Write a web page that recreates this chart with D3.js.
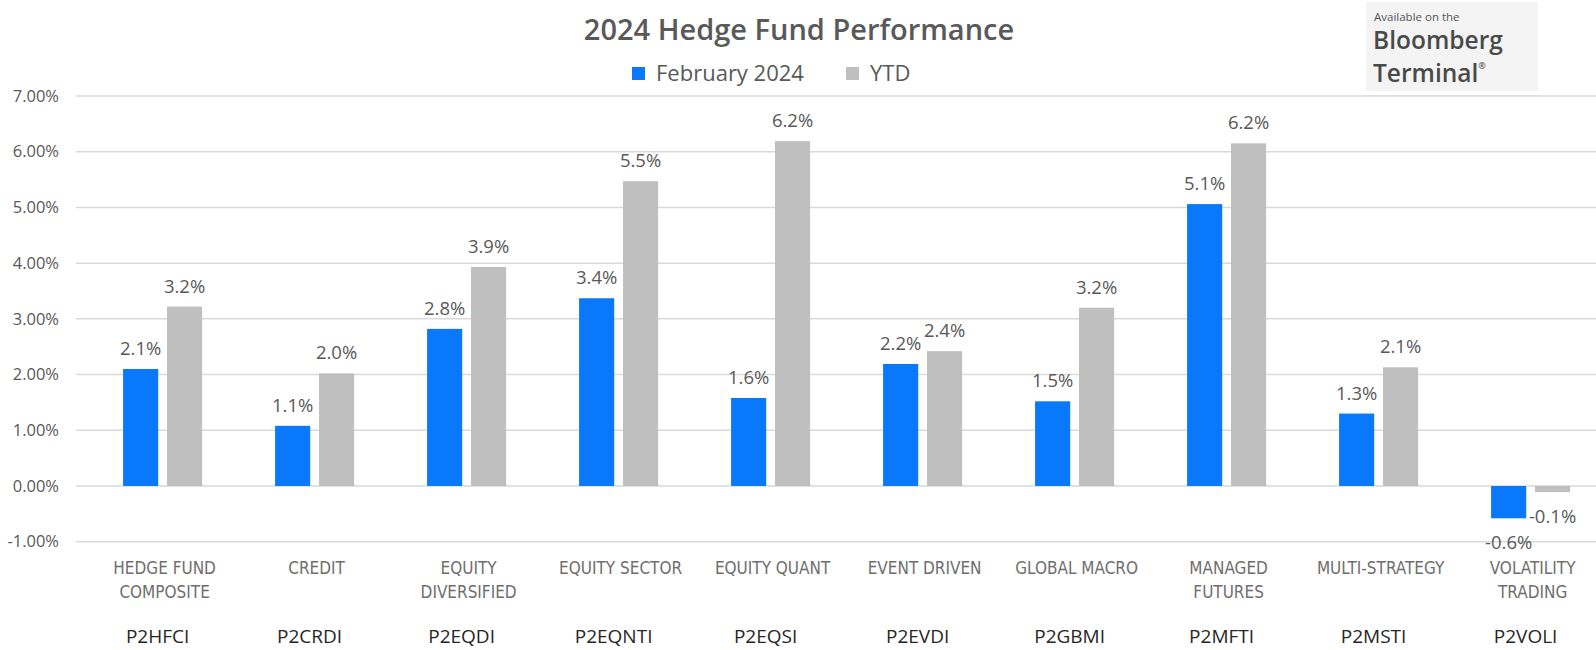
<!DOCTYPE html>
<html>
<head>
<meta charset="utf-8">
<script src="https://cdn.jsdelivr.net/npm/d3@7"></script>
<style>
    body { margin: 0; background: #fff; }
    #chart { width: 1596px; height: 650px; }
    .grid line { stroke: #d9d9d9; stroke-width: 1.5px; }
    .y-axis text { font-family: "Open Sans", sans-serif; font-size: 16.5px; fill: #595959; }
    .cat-label { font-family: "Liberation Sans Narrow", "Arial Narrow", "DejaVu Sans Condensed", sans-serif; font-size: 17px; fill: #6e6e6e; }
    .ticker { font-family: "Open Sans", sans-serif; font-size: 19px; fill: #262626; }
    .value-label { font-family: "Open Sans", sans-serif; font-size: 18.5px; fill: #595959; }
</style>
</head>
<body>
<div id="chart"></div>
<script>

// chart data
let categories = ["HEDGE FUND\nCOMPOSITE", "CREDIT", "EQUITY\nDIVERSIFIED", "EQUITY SECTOR", "EQUITY QUANT",
    "EVENT DRIVEN", "GLOBAL MACRO", "MANAGED\nFUTURES", "MULTI-STRATEGY", "VOLATILITY\nTRADING"];
let tickers = ["P2HFCI", "P2CRDI", "P2EQDI", "P2EQNTI", "P2EQSI", "P2EVDI", "P2GBMI", "P2MFTI", "P2MSTI", "P2VOLI"];
let febValues = [2.1, 1.08, 2.82, 3.37, 1.58, 2.19, 1.52, 5.06, 1.3, -0.58];
let ytdValues = [3.22, 2.02, 3.93, 5.47, 6.19, 2.42, 3.2, 6.15, 2.13, -0.11];
let seriesNames = ["February 2024", "YTD"];
let seriesColors = ["#0a78fb", "#bfbfbf"];
let yTicks = [-1, 0, 1, 2, 3, 4, 5, 6, 7];

let rows = categories.map((c, i) => ({
    category: c,
    ticker: tickers[i],
    values: [
        {series: seriesNames[0], value: febValues[i]},
        {series: seriesNames[1], value: ytdValues[i]}
    ]
}));

let width = 1596, height = 650;

let svg = d3.select("#chart").append("svg")
    .attr("width", width)
    .attr("height", height);

// scales
let y = d3.scaleLinear()
    .domain([-1, 7])
    .range([541.7, 96]);

let x0 = d3.scaleBand()
    .domain(categories)
    .range([86.6, 1606.6])
    .paddingInner(0.48)
    .paddingOuter(0.24);

let x1 = d3.scaleBand()
    .domain(seriesNames)
    .range([0, x0.bandwidth()])
    .paddingInner(0.2);

let color = d3.scaleOrdinal()
    .domain(seriesNames)
    .range(seriesColors);

// title
svg.append("text")
    .attr("x", 799)
    .attr("y", 40)
    .attr("text-anchor", "middle")
    .attr("font-family", "'Open Sans', sans-serif")
    .attr("font-weight", 600)
    .attr("font-size", "29px")
    .attr("fill", "#595959")
    .text("2024 Hedge Fund Performance");

// legend
let legend = svg.append("g").attr("class", "legend");
let legendX = [632, 846];
seriesNames.forEach((s, i) => {
    let g = legend.append("g").attr("transform", `translate(${legendX[i]}, 0)`);
    g.append("rect")
        .attr("x", 0).attr("y", 67)
        .attr("width", 13).attr("height", 13)
        .attr("fill", color(s));
    g.append("text")
        .attr("x", 24).attr("y", 81)
        .attr("font-family", "'Open Sans', sans-serif")
        .attr("font-size", "22px")
        .attr("fill", "#595959")
        .text(s);
});

// bloomberg badge
let badge = svg.append("g").attr("class", "badge");
badge.append("rect")
    .attr("x", 1366).attr("y", 2)
    .attr("width", 172).attr("height", 89)
    .attr("fill", "#f4f4f4");
badge.append("text")
    .attr("x", 1374).attr("y", 21)
    .attr("font-family", "'Open Sans', sans-serif")
    .attr("font-size", "11.5px")
    .attr("fill", "#555")
    .text("Available on the");
badge.append("text")
    .attr("x", 1373).attr("y", 49)
    .attr("font-family", "'Open Sans', sans-serif")
    .attr("font-weight", 600)
    .attr("font-size", "24.5px")
    .attr("fill", "#4a4a4a")
    .text("Bloomberg");
let term = badge.append("text")
    .attr("x", 1373).attr("y", 82)
    .attr("font-family", "'Open Sans', sans-serif")
    .attr("font-weight", 600)
    .attr("font-size", "24.5px")
    .attr("fill", "#4a4a4a")
    .text("Terminal");
term.append("tspan")
    .attr("font-size", "9px")
    .attr("dy", "-13")
    .text("®");

// gridlines
let grid = svg.append("g").attr("class", "grid");
grid.selectAll("line")
    .data(yTicks)
    .enter().append("line")
    .attr("x1", 76).attr("x2", width)
    .attr("y1", d => y(d)).attr("y2", d => y(d));

// y axis labels
let yAxis = d3.axisLeft(y)
    .tickValues(yTicks)
    .tickSize(0)
    .tickPadding(0)
    .tickFormat(d => d.toFixed(2) + "%");

svg.append("g")
    .attr("class", "y-axis")
    .attr("transform", "translate(59,0)")
    .call(yAxis)
    .call(g => g.select(".domain").remove());

// bars
let groups = svg.selectAll(".group")
    .data(rows)
    .enter().append("g")
    .attr("class", "group")
    .attr("transform", d => `translate(${x0(d.category)},0)`);

groups.selectAll("rect")
    .data(d => d.values)
    .enter().append("rect")
    .attr("x", d => x1(d.series))
    .attr("width", x1.bandwidth())
    .attr("y", d => y(Math.max(0, d.value)))
    .attr("height", d => Math.abs(y(d.value) - y(0)))
    .attr("fill", d => color(d.series));

// value labels
groups.selectAll(".value-label")
    .data(d => d.values)
    .enter().append("text")
    .attr("class", "value-label")
    .attr("text-anchor", "middle")
    .attr("x", d => x1(d.series) + x1.bandwidth() / 2)
    .attr("y", d => d.value >= 0 ? y(d.value) - 14 : y(d.value) + 31)
    .text(d => d.value.toFixed(1) + "%");

// category axis
let xAxis = d3.axisBottom(x0).tickSize(0).tickFormat("");
let xAxisGroup = svg.append("g")
    .attr("class", "x-axis")
    .call(xAxis)
    .call(g => g.select(".domain").remove());

xAxisGroup.selectAll(".tick").each(function(d, i) {
    let tick = d3.select(this);
    let label = tick.append("text")
        .attr("class", "cat-label")
        .attr("text-anchor", "middle")
        .attr("x", 2)
        .attr("y", 574);
    d.split("\n").forEach((line, j) => {
        label.append("tspan")
            .attr("x", 2)
            .attr("dy", j === 0 ? 0 : 23.5)
            .text(line);
    });
    tick.append("text")
        .attr("class", "ticker")
        .attr("text-anchor", "middle")
        .attr("x", -5)
        .attr("y", 643)
        .text(tickers[i]);
});

</script>
</body>
</html>
